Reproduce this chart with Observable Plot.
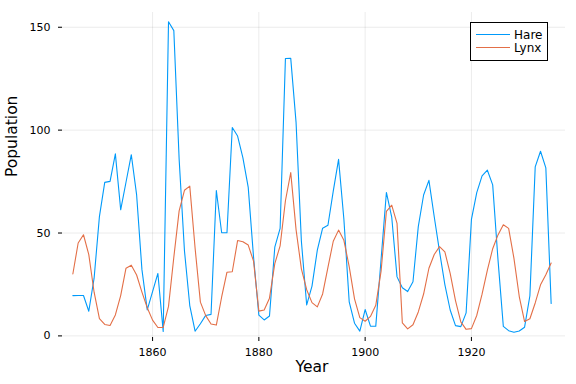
<!DOCTYPE html>
<html><head><meta charset="utf-8">
<script src="https://cdn.jsdelivr.net/npm/d3@7"></script>
<script src="https://cdn.jsdelivr.net/npm/@observablehq/plot@0.6"></script>
<style>
body{margin:0;background:#fff;font-family:"DejaVu Sans",sans-serif;}
#wrap{position:relative;width:576px;height:384px;}
#legend{position:absolute;left:470px;top:22px;width:78px;height:39px;border:1px solid #000;background:#fff;font-size:12px;box-sizing:border-box;}
.row{display:flex;align-items:center;height:13px;margin-left:5px;}
.row:first-child{margin-top:5px;}
.sw{width:34px;height:0;border-top:1px solid;margin-right:4px;}
</style></head><body>
<div id="wrap"><div id="legend"></div></div>
<script>
const years = d3.range(1845, 1936);
const hare = [19.58,19.6,19.61,11.99,28.04,58.0,74.6,75.09,88.48,61.28,74.67,88.06,68.51,32.19,12.64,21.49,30.35,2.18,152.65,148.36,85.81,41.41,14.75,2.28,5.91,9.95,10.44,70.64,50.12,50.13,101.25,97.12,86.51,72.17,38.32,10.11,7.74,9.67,43.12,52.21,134.85,134.86,103.79,46.1,15.03,24.2,41.65,52.34,53.78,70.4,85.81,56.69,16.59,6.16,2.3,12.82,4.72,4.73,37.22,69.72,57.78,28.68,23.37,21.54,26.34,53.1,68.48,75.58,57.92,40.97,24.95,12.59,4.97,4.5,11.21,56.6,69.63,77.74,80.53,73.38,36.93,4.64,2.54,1.8,2.39,4.23,19.52,82.11,89.76,81.66,15.76];
const lynx = [30.09,45.15,49.15,39.52,21.23,8.42,5.56,5.08,10.17,19.6,32.91,34.38,29.59,21.3,13.69,7.65,4.08,4.09,14.33,38.22,60.78,70.77,72.77,42.68,16.39,9.83,5.8,5.26,18.91,30.95,31.18,46.34,45.77,44.15,36.33,12.03,12.6,18.34,35.14,43.77,65.69,79.35,51.65,32.59,22.45,16.16,14.12,20.38,33.33,46.0,51.41,46.43,33.68,18.01,8.86,7.13,9.47,14.86,31.47,60.57,63.51,54.7,6.3,3.41,5.44,11.65,20.35,32.88,39.55,43.36,40.83,30.36,17.18,6.82,3.19,3.52,9.94,20.3,31.99,42.36,49.08,53.99,52.25,37.7,19.14,6.98,8.31,16.01,24.82,29.7,35.4];
const seriesNames = ["Hare", "Lynx"];
const colors = ["#009AFA", "#E36F47"];
const xTicks = [1860, 1880, 1900, 1920];
const yTicks = [0, 50, 100, 150];

const rows = [];
years.forEach((y, i) => {
  rows.push({year: y, value: hare[i], series: "Hare"});
  rows.push({year: y, value: lynx[i], series: "Lynx"});
});
const pad = (a, b) => { const s = (b - a) * 0.03; return [a - s, b + s]; };
const allVals = hare.concat(lynx);
const xDom = pad(d3.min(years), d3.max(years));
const yDom = pad(d3.min(allVals), d3.max(allVals));

const chart = Plot.plot({
  width: 576, height: 384,
  marginLeft: 58, marginRight: 11, marginTop: 12, marginBottom: 43,
  style: {fontFamily: "DejaVu Sans, sans-serif", fontSize: "11px", color: "#000", background: "#fff"},
  x: {domain: xDom},
  y: {domain: yDom},
  color: {domain: seriesNames, range: colors},
  marks: [
    Plot.gridX(xTicks, {stroke: "#000", strokeOpacity: 0.08}),
    Plot.gridY(yTicks, {stroke: "#000", strokeOpacity: 0.08}),
    Plot.axisX({ticks: xTicks, tickFormat: d => String(d), tickSize: -4, tickPadding: 11, line: true, label: null, fontSize: 11}),
    Plot.axisY({ticks: yTicks, tickSize: -4, tickPadding: 12, line: true, label: null, fontSize: 11}),
    Plot.line(rows, {x: "year", y: "value", z: "series", stroke: "series", strokeWidth: 1.1}),
    Plot.text(["Year"], {frameAnchor: "bottom", dy: 30, fontSize: 15.5}),
    Plot.text(["Population"], {frameAnchor: "left", dx: -46, rotate: -90, fontSize: 15.5})
  ]
});
document.getElementById("wrap").prepend(chart);
const lg = document.getElementById("legend");
seriesNames.forEach((n, i) => {
  const r = document.createElement("div"); r.className = "row";
  r.innerHTML = `<div class="sw" style="border-color:${colors[i]}"></div><span>${n}</span>`;
  lg.appendChild(r);
});
</script></body></html>
